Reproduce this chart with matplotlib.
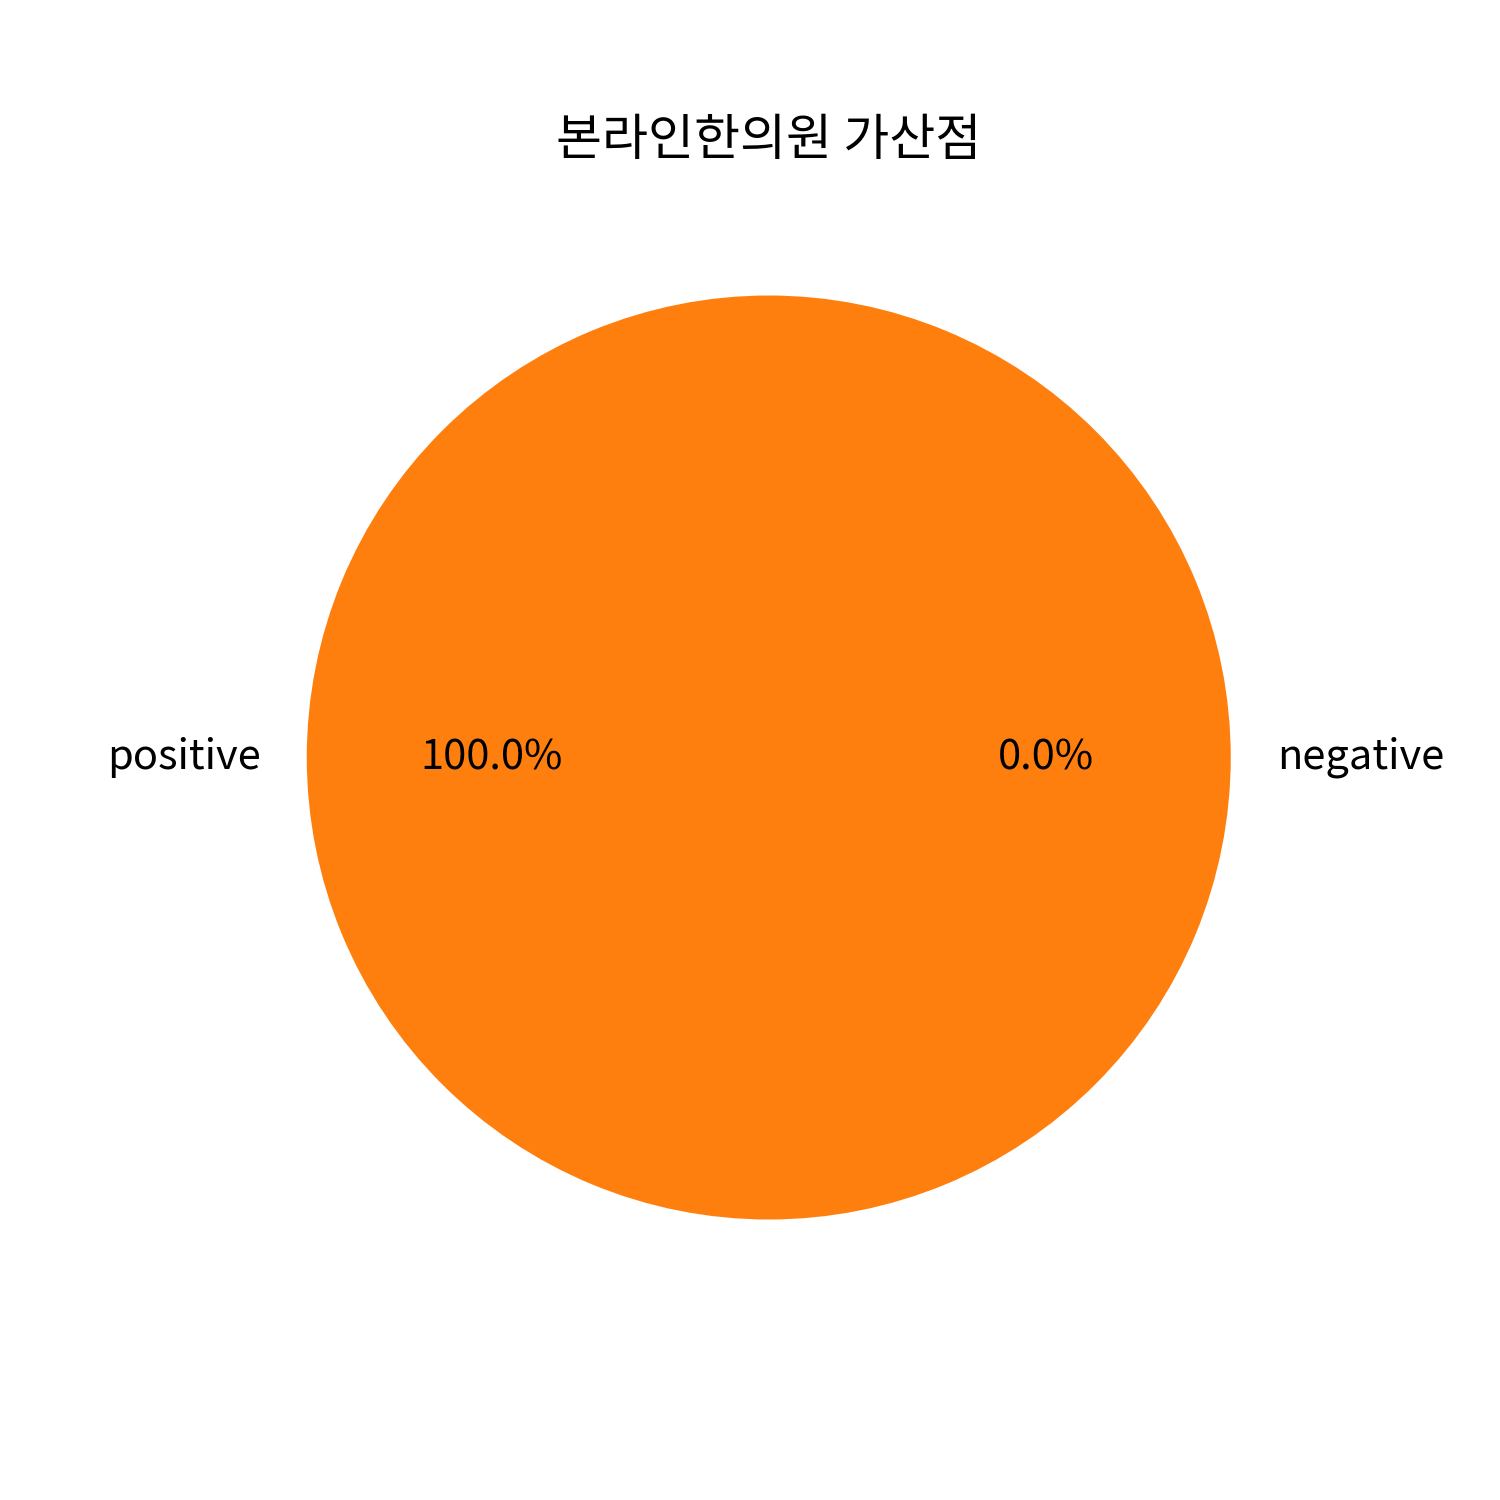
import matplotlib
matplotlib.use('Agg')
import matplotlib.pyplot as plt

plt.rcParams['font.family'] = ['Noto Sans CJK KR', 'DejaVu Sans']

# Data
labels = ['negative', 'positive']
counts = [0, 1]
title = '본라인한의원 가산점'

fig, ax = plt.subplots(figsize=(5, 5), dpi=300)
ax.pie(counts, labels=labels, autopct='%1.1f%%')
ax.set_title(title)

plt.savefig('out.png', dpi=300, facecolor='white')
plt.close()
